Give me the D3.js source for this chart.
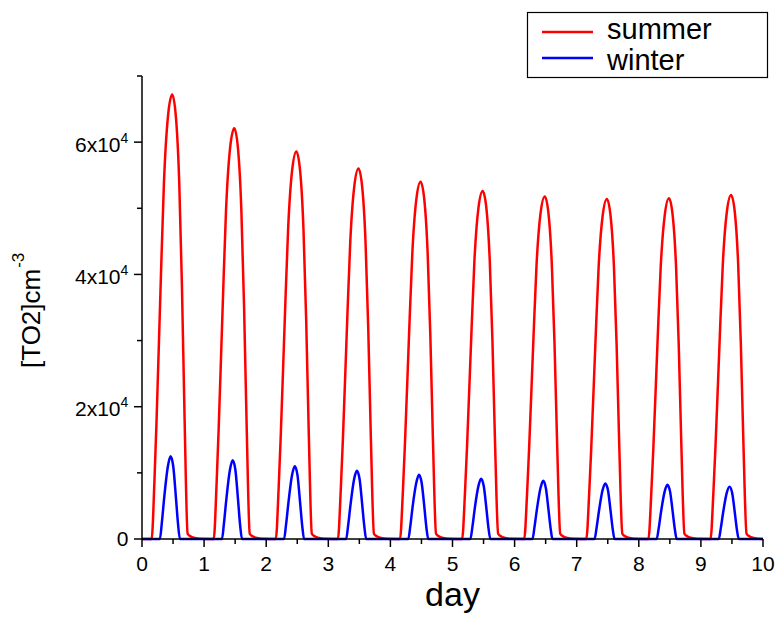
<!DOCTYPE html>
<html>
<head>
<meta charset="utf-8">
<script src="https://cdn.jsdelivr.net/npm/d3@7/dist/d3.min.js"></script>
<style>
  html, body { margin: 0; padding: 0; background: #fff; }
  svg { display: block; font-family: "Liberation Sans", Arial, sans-serif; }
</style>
</head>
<body>
<svg id="chart" width="778" height="617"></svg>
<script>
// ---------- data (values in units of 10^3 cm^-3) ----------
const xTicks = [0, 1, 2, 3, 4, 5, 6, 7, 8, 9, 10];
const xMinorTicks = [0.5, 1.5, 2.5, 3.5, 4.5, 5.5, 6.5, 7.5, 8.5, 9.5];
const yTicks = [0, 20000, 40000, 60000];
const yTickLabels = [["0", ""], ["2x10", "4"], ["4x10", "4"], ["6x10", "4"]];
const yMinorTicks = [10000, 30000, 50000, 70000];
const seriesNames = ["summer", "winter"];
const seriesColors = ["#ff0000", "#0000ff"];

// time within each day (fraction of day) at which values were read
const summerOffsets = [0.155, 0.20, 0.235, 0.30, 0.353, 0.417, 0.486, 0.546, 0.60, 0.643, 0.686, 0.735, 0.78, 0.85, 0.93];
const summerDays = [
  [0, 8.7, 18.1, 38.3, 53.8, 63.8, 67.2, 63.8, 53.8, 38.3, 18.1, 0.8, 0.4, 0.15, 0.02],
  [0, 8.1, 16.8, 35.4, 49.7, 59.0, 62.1, 59.0, 49.7, 35.4, 16.8, 0.8, 0.4, 0.15, 0.02],
  [0, 7.6, 15.8, 33.4, 46.9, 55.7, 58.6, 55.7, 46.9, 33.4, 15.8, 0.8, 0.4, 0.15, 0.02],
  [0, 7.3, 15.1, 31.9, 44.8, 53.2, 56.0, 53.2, 44.8, 31.9, 15.1, 0.8, 0.4, 0.15, 0.02],
  [0, 7.0, 14.6, 30.8, 43.2, 51.3, 54.0, 51.3, 43.2, 30.8, 14.6, 0.8, 0.4, 0.15, 0.02],
  [0, 6.8, 14.2, 30.0, 42.1, 50.0, 52.6, 50.0, 42.1, 30.0, 14.2, 0.8, 0.4, 0.15, 0.02],
  [0, 6.7, 14.0, 29.5, 41.4, 49.2, 51.8, 49.2, 41.4, 29.5, 14.0, 0.8, 0.4, 0.15, 0.02],
  [0, 6.7, 13.9, 29.3, 41.1, 48.8, 51.4, 48.8, 41.1, 29.3, 13.9, 0.8, 0.4, 0.15, 0.02],
  [0, 6.7, 13.9, 29.4, 41.2, 48.9, 51.5, 48.9, 41.2, 29.4, 13.9, 0.8, 0.4, 0.15, 0.02],
  [0, 6.8, 14.0, 29.6, 41.6, 49.4, 52.0, 49.4, 41.6, 29.6, 14.0, 0.8, 0.4, 0.15, 0.02]
];

const winterOffsets = [0.288, 0.32, 0.358, 0.417, 0.46, 0.503, 0.546, 0.58, 0.61];
const winterDays = [
  [0, 2.5, 6.3, 11.0, 12.5, 11.0, 6.3, 2.3, 0],
  [0, 2.4, 6.0, 10.5, 11.9, 10.5, 6.0, 2.1, 0],
  [0, 2.2, 5.5, 9.7, 11.0, 9.7, 5.5, 2.0, 0],
  [0, 2.1, 5.2, 9.1, 10.3, 9.1, 5.2, 1.9, 0],
  [0, 1.9, 4.9, 8.5, 9.7, 8.5, 4.9, 1.7, 0],
  [0, 1.8, 4.6, 8.0, 9.1, 8.0, 4.6, 1.6, 0],
  [0, 1.8, 4.4, 7.7, 8.8, 7.7, 4.4, 1.6, 0],
  [0, 1.7, 4.2, 7.4, 8.4, 7.4, 4.2, 1.5, 0],
  [0, 1.6, 4.1, 7.2, 8.2, 7.2, 4.1, 1.5, 0],
  [0, 1.6, 4.0, 7.0, 7.9, 7.0, 4.0, 1.4, 0]
];

// ---------- build point lists ----------
function buildSeries(offsets, days) {
  const pts = [[0, 0]];
  days.forEach((vals, d) => {
    vals.forEach((v, i) => pts.push([d + offsets[i], v * 1000]));
  });
  pts.push([10, 0]);
  return pts;
}
const summer = buildSeries(summerOffsets, summerDays);
const winter = buildSeries(winterOffsets, winterDays);

// ---------- layout ----------
const svg = d3.select("#chart");
const mLeft = 142, mRight = 763, mTop = 76, mBottom = 539;
const x = d3.scaleLinear().domain([0, 10]).range([mLeft, mRight]);
const y = d3.scaleLinear().domain([0, 70000]).range([mBottom, mTop]);

const line = d3.line()
  .x(d => x(d[0]))
  .y(d => y(d[1]))
  .curve(d3.curveMonotoneX);

// series
svg.append("path").datum(summer)
  .attr("d", line).attr("fill", "none")
  .attr("stroke", seriesColors[0]).attr("stroke-width", 2.5)
  .attr("stroke-linejoin", "round");
svg.append("path").datum(winter)
  .attr("d", line).attr("fill", "none")
  .attr("stroke", seriesColors[1]).attr("stroke-width", 2.5)
  .attr("stroke-linejoin", "round");

// x axis
const xAxis = svg.append("g").attr("transform", `translate(0,${mBottom})`);
xAxis.append("line").attr("x1", mLeft).attr("x2", mRight)
  .attr("stroke", "#000").attr("stroke-width", 1.5);
xAxis.selectAll("line.maj").data(xTicks).enter().append("line")
  .attr("x1", d => x(d)).attr("x2", d => x(d)).attr("y1", 0).attr("y2", 8)
  .attr("stroke", "#000").attr("stroke-width", 1.5);
xAxis.selectAll("line.min").data(xMinorTicks).enter().append("line")
  .attr("x1", d => x(d)).attr("x2", d => x(d)).attr("y1", 0).attr("y2", 5)
  .attr("stroke", "#000").attr("stroke-width", 1.5);
xAxis.selectAll("text").data(xTicks).enter().append("text")
  .attr("x", d => x(d)).attr("y", 31.7)
  .attr("text-anchor", "middle").attr("font-size", 21).attr("fill", "#000")
  .text(d => d);

// y axis
const yAxis = svg.append("g").attr("transform", `translate(${mLeft},0)`);
yAxis.append("line").attr("y1", mBottom).attr("y2", mTop)
  .attr("stroke", "#000").attr("stroke-width", 1.5);
yAxis.selectAll("line.maj").data(yTicks).enter().append("line")
  .attr("y1", d => y(d)).attr("y2", d => y(d)).attr("x1", 0).attr("x2", -8)
  .attr("stroke", "#000").attr("stroke-width", 1.5);
yAxis.selectAll("line.min").data(yMinorTicks).enter().append("line")
  .attr("y1", d => y(d)).attr("y2", d => y(d)).attr("x1", 0).attr("x2", -5)
  .attr("stroke", "#000").attr("stroke-width", 1.5);
yTicks.forEach((t, i) => {
  const lab = yTickLabels[i];
  const txt = yAxis.append("text")
    .attr("x", -13.7).attr("y", y(t) + (lab[1] ? 9.7 : 7.0))
    .attr("text-anchor", "end").attr("font-size", 21).attr("fill", "#000");
  txt.append("tspan").text(lab[0]);
  if (lab[1]) {
    txt.append("tspan").attr("font-size", 14).attr("dy", -9).text(lab[1]);
  }
});

// axis titles
svg.append("text")
  .attr("x", (mLeft + mRight) / 2).attr("y", 606)
  .attr("text-anchor", "middle").attr("font-size", 34).attr("fill", "#000")
  .text("day");

const yTitle = svg.append("text")
  .attr("transform", "translate(39.5,368) rotate(-90)")
  .attr("text-anchor", "start").attr("font-size", 26).attr("fill", "#000");
yTitle.append("tspan").text("[TO2]cm");
yTitle.append("tspan").attr("font-size", 17).attr("dy", -16).attr("dx", 1).text("-3");

// legend
const legend = svg.append("g");
legend.append("rect")
  .attr("x", 527.5).attr("y", 12.5).attr("width", 240).attr("height", 65)
  .attr("fill", "#fff").attr("stroke", "#000").attr("stroke-width", 1.2);
const legendLineY = [32, 58];
const legendTextY = [38.5, 70];
seriesNames.forEach((name, i) => {
  legend.append("line")
    .attr("x1", 542).attr("x2", 593).attr("y1", legendLineY[i]).attr("y2", legendLineY[i])
    .attr("stroke", seriesColors[i]).attr("stroke-width", 2.5);
  legend.append("text")
    .attr("x", 607).attr("y", legendTextY[i])
    .attr("font-size", 29).attr("fill", "#000")
    .text(name);
});
</script>
</body>
</html>
